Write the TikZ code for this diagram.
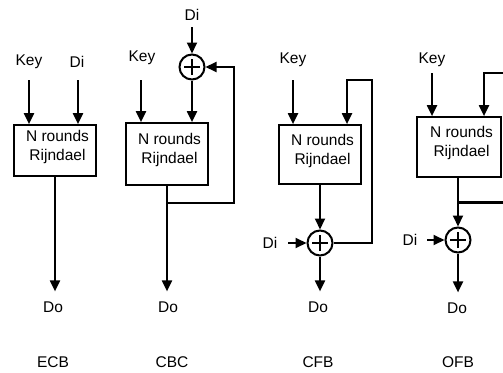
\documentclass[tikz,border=0pt]{standalone}
\usepackage{fontspec}
\setmainfont{Liberation Sans}
\usetikzlibrary{arrows.meta,calc}
\newcommand{\boxtxt}{\hspace*{5pt}N rounds\\\hspace*{5pt}Rijndael}
\begin{document}
\begin{tikzpicture}[x=1pt,y=-1pt,
  lbl/.style={font=\fontsize{15.5}{19}\selectfont, inner sep=0pt},
  blk/.style={draw, line width=1.7pt, align=center, font=\fontsize{15.5}{19}\selectfont, inner sep=0pt, text depth=11pt},
  xor/.style={circle, draw, line width=2pt, minimum size=25pt, inner sep=0pt,
    path picture={\draw[line width=2pt]
      ([xshift=-8pt]path picture bounding box.center) -- ([xshift=8pt]path picture bounding box.center)
      ([yshift=-8pt]path picture bounding box.center) -- ([yshift=8pt]path picture bounding box.center);}},
  arr/.style={line width=2pt, -{Triangle[length=11pt,width=10pt]}},
  wire/.style={line width=2pt},
  bus/.style={line width=3pt}]
\useasboundingbox (0,0) rectangle (503,372);

% ---------- ECB ----------
\node[lbl] (k1) at (29,62) {Key};
\node[lbl] (d1) at (77,62) {Di};
\node[blk, minimum width=82pt, minimum height=51pt] (b1) at (55,150.5) {\boxtxt};
\node[lbl] (o1) at (53,307) {Do};
\node[lbl] (n1) at (53,362) {ECB};
\coordinate (k1t) at (29,80);
\coordinate (d1t) at (78,80);
\draw[arr] (k1t) -- (k1t |- b1.north);
\draw[arr] (d1t) -- (d1t |- b1.north);
\draw[arr, shorten >=10pt] (b1.south) -- (b1.south |- o1.north);

% ---------- CBC ----------
\node[lbl] (d2) at (192,15) {Di};
\node[xor] (x2) at (192,67) {};
\node[lbl] (k2) at (142,58) {Key};
\node[blk, minimum width=82pt, minimum height=62pt] (b2) at (167,154) {\boxtxt};
\node[lbl] (o2) at (168,307) {Do};
\node[lbl] (n2) at (172,362) {CBC};
\coordinate (d2t) at (192,27);
\coordinate (k2t) at (141,80);
\coordinate (f2) at (234,203);
\draw[arr] (d2t) -- (x2.north);
\draw[arr] (k2t) -- (k2t |- b2.north);
\draw[arr] (x2.south) -- (x2.south |- b2.north);
\draw[arr, shorten >=10pt] (b2.south) -- (b2.south |- o2.north);
\draw[arr] (b2.south |- f2) -- (f2) |- (x2.east);

% ---------- CFB ----------
\node[lbl] (k3) at (293,60) {Key};
\node[blk, minimum width=82pt, minimum height=59pt] (b3) at (320,154.5) {\boxtxt};
\node[xor] (x3) at (320,243) {};
\node[lbl] (d3) at (270,243) {Di};
\node[lbl] (o3) at (318,307) {Do};
\node[lbl] (n3) at (318,362) {CFB};
\coordinate (k3t) at (293,80);
\coordinate (d3t) at (288,243);
\coordinate (f3) at (372,80);
\coordinate (f3b) at (347,80);
\draw[arr] (k3t) -- (k3t |- b3.north);
\draw[arr] (x3 |- b3.south) -- (x3.north);
\draw[arr] (d3t) -- (x3.west);
\draw[arr, shorten >=10pt] (x3.south) -- (x3.south |- o3.north);
\draw[arr] (x3.east) -| (f3) -- (f3b) -- (f3b |- b3.north);

% ---------- OFB ----------
\node[lbl] (k4) at (432,60) {Key};
\node[blk, minimum width=84pt, minimum height=60pt] (b4) at (459,147) {\boxtxt};
\node[xor] (x4) at (458,240) {};
\node[lbl] (d4) at (410,240) {Di};
\node[lbl] (o4) at (457,308) {Do};
\node[lbl] (n4) at (458,362) {OFB};
\coordinate (k4t) at (432,73);
\coordinate (d4t) at (427,240);
\coordinate (e4a) at (503,73);
\coordinate (f4) at (484,73);
\coordinate (e4b) at (503,202);
\draw[arr] (k4t) -- (k4t |- b4.north);
\draw[arr] (e4a) -- (f4) -- (f4 |- b4.north);
\draw[arr] (x4 |- b4.south) -- (x4.north);
\draw[bus] (x4 |- e4b) -- (e4b);
\draw[arr] (d4t) -- (x4.west);
\draw[arr, shorten >=10pt] (x4.south) -- (x4.south |- o4.north);
\end{tikzpicture}
\end{document}
